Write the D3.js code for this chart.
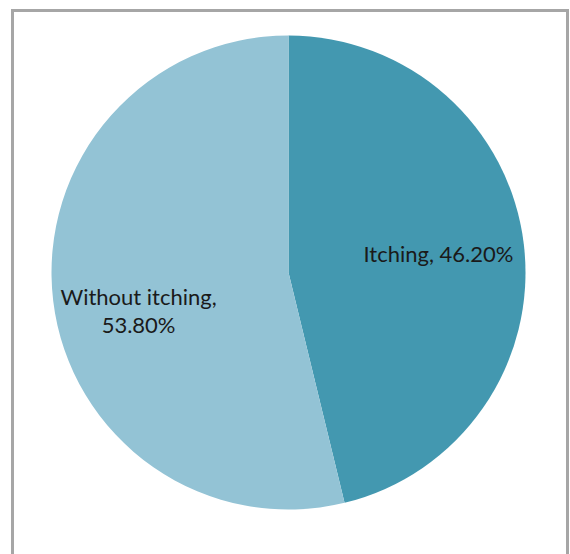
<!DOCTYPE html>
<html>
<head>
<meta charset="utf-8">
<script src="https://cdn.jsdelivr.net/npm/d3@7"></script>
<style>
  html, body { margin: 0; padding: 0; background: #fff; }
  svg { display: block; }
</style>
</head>
<body>
<svg id="chart" width="570" height="554"></svg>
<script>
const categories = ["Itching", "Without itching"];
const values = [46.2, 53.8];
const labelLines = [["Itching, 46.20%"], ["Without itching,", "53.80%"]];
const colors = ["#4398b0", "#93c3d5"];

const svg = d3.select("#chart");

// frame
svg.append("rect")
  .attr("x", 12.5).attr("y", 10.5)
  .attr("width", 555).attr("height", 560)
  .attr("fill", "#fff")
  .attr("stroke", "#a6a6a6")
  .attr("stroke-width", 3);

const cx = 288.5, cy = 272.5, r = 237;
const g = svg.append("g").attr("transform", `translate(${cx},${cy})`);

const pie = d3.pie().sort(null).value(d => d.v);
const data = categories.map((c, i) => ({ c, v: values[i], i }));
const arcs = pie(data);
const arc = d3.arc().innerRadius(0).outerRadius(r);
const labelArc = d3.arc().innerRadius(151).outerRadius(151);

g.selectAll("path.slice").data(arcs).enter().append("path")
  .attr("class", "slice")
  .attr("d", arc)
  .attr("fill", d => colors[d.data.i]);

const lineH = 28;
const extraDy = [0, 21];
const lab = g.selectAll("text.lab").data(arcs).enter().append("text")
  .attr("class", "lab")
  .attr("font-family", "Lato, 'Open Sans', sans-serif")
  .attr("font-size", 22)
  .attr("fill", "#1a1a1a")
  .attr("text-anchor", "middle")
  .attr("transform", d => {
    const [x, y] = labelArc.centroid(d);
    const n = labelLines[d.data.i].length;
    return `translate(${x},${y + extraDy[d.data.i] - (n - 1) * lineH / 2})`;
  });
lab.each(function(d) {
  const t = d3.select(this);
  labelLines[d.data.i].forEach((s, k) => {
    t.append("tspan").attr("x", 0).attr("y", k * lineH).attr("dy", "0.35em").text(s);
  });
});
</script>
</body>
</html>
